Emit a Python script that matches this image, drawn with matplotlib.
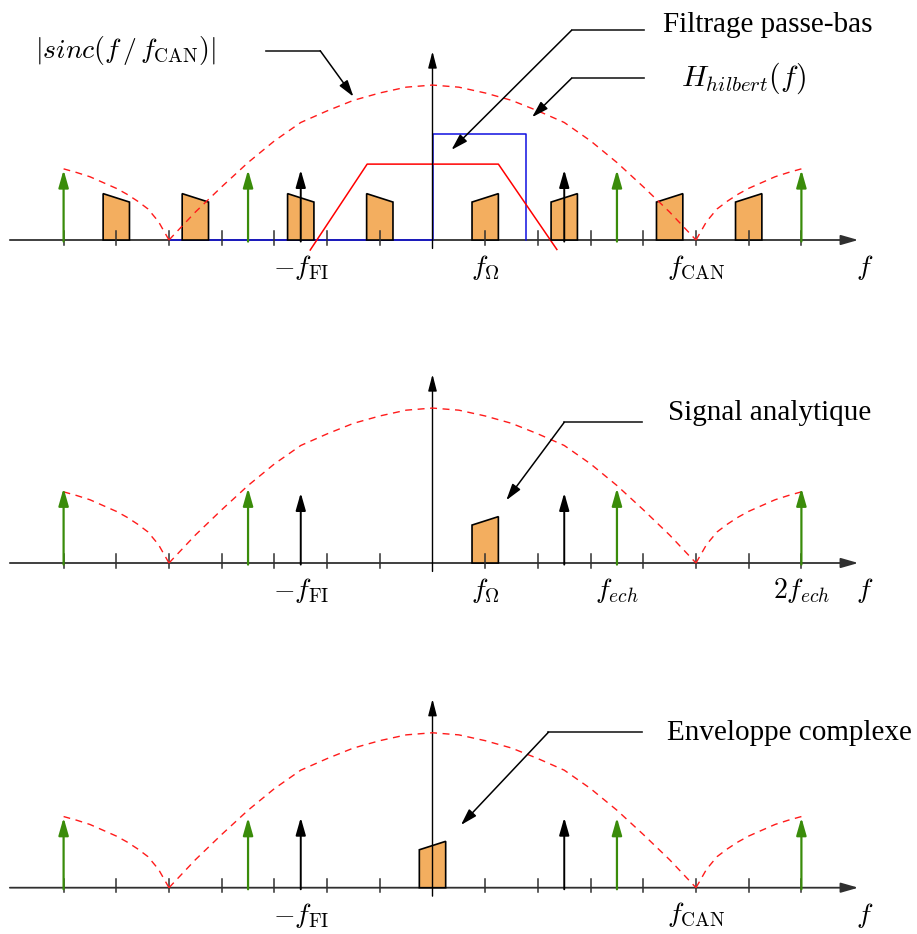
import matplotlib.pyplot as plt
import numpy as np

plt.rcParams['mathtext.fontset'] = 'cm'

# frequency axis in units where f_CAN = 5
f_fi = 2.5
f_omega = 1.0
f_can = 5.0
f_ech = 3.5

# |sinc| envelope (main lobe and side lobe, positive half)
lobe_x = [0, 0.5, 1.0, 1.5, 2.0, 2.5, 3.0, 3.5, 4.0, 4.5, 5.0]
lobe_y = [2.94, 2.90, 2.79, 2.65, 2.45, 2.23, 1.88, 1.47, 1.01, 0.53, 0.0]
side_x = [5.0, 5.2, 5.4, 5.6, 5.8, 6.0, 6.25, 6.5, 6.75, 7.0]
side_y = [0.0, 0.35, 0.59, 0.74, 0.87, 0.98, 1.09, 1.20, 1.28, 1.35]

# lines (Dirac) : green = multiples of f_ech, black = +/- f_FI
green_lines = [-2 * f_ech, -f_ech, f_ech, 2 * f_ech]
black_lines = [-f_fi, f_fi]
line_height = 1.33
green_height_p2 = 1.42

# band-pass spectrum replicas (centres), width and edge heights
p1_bands = [-6.0, -4.5, -2.5, -1.0, 1.0, 2.5, 4.5, 6.0]
p2_bands = [1.0]
p3_bands = [0.0]
band_width = 0.5
band_low = 0.72
band_high = 0.88

# filters of the first panel
hilbert_x = [-5.0, 0.0, 0.0, 1.77, 1.77]
hilbert_y = [0.0, 0.0, 2.01, 2.01, 0.0]
lowpass_x = [-2.32, -1.24, 1.25, 2.36]
lowpass_y = [-0.19, 1.44, 1.44, -0.18]

ticks = [k for k in range(-7, 8) if k != 0]

# ---- layout (pixels) ----
W, H = 917, 934
U = 52.7          # pixels per unit
X0 = 432.5        # pixel x of f = 0
RED = '#ff1a1a'
GREEN = '#3a8c0a'
ORANGE = '#f3ae5f'
AXC = '#303030'

fig = plt.figure(figsize=(W / 100, H / 100), dpi=100)


def make_panel(top_px, bottom_px, base_px):
    ax = fig.add_axes([0, 1 - bottom_px / H, 1, (bottom_px - top_px) / H])
    ax.set_xlim(-X0 / U, (W - X0) / U)
    ax.set_ylim(-(bottom_px - base_px) / U, (base_px - top_px) / U)
    ax.axis('off')
    return ax


def draw_axes(ax):
    ax.annotate('', xy=(8.08, 0), xytext=(-8.02, 0),
                arrowprops=dict(arrowstyle='-|>,head_length=1.05,head_width=0.3',
                                mutation_scale=10, color=AXC, lw=1.3,
                                shrinkA=0, shrinkB=0), zorder=2)
    ax.annotate('', xy=(0, 3.58), xytext=(0, -0.16),
                arrowprops=dict(arrowstyle='-|>,head_length=1.0,head_width=0.26',
                                mutation_scale=10, color='black', lw=1.0,
                                shrinkA=0, shrinkB=0), zorder=5.5)
    for t in ticks:
        ax.plot([t, t], [-0.09, 0.17], color=AXC, lw=1.1, zorder=5.5)


def draw_sinc(ax):
    lx = np.array(lobe_x)
    ly = np.array(lobe_y)
    sx = np.array(side_x)
    sy = np.array(side_y)
    kw = dict(color=RED, lw=1.0, ls=(0, (5, 4)), zorder=6)
    ax.plot(np.concatenate([-lx[::-1], lx[1:]]), np.concatenate([ly[::-1], ly[1:]]), **kw)
    ax.plot(sx, sy, **kw)
    ax.plot(-sx, sy, **kw)


def draw_bands(ax, centres):
    for c in centres:
        if c >= 0:
            hl, hr = band_low, band_high
        else:
            hl, hr = band_high, band_low
        ax.fill([c - band_width / 2, c - band_width / 2, c + band_width / 2, c + band_width / 2],
                [0, hl, hr, 0], facecolor=ORANGE, edgecolor='black', lw=1.2, zorder=5)


def draw_lines(ax, green_h):
    for x in green_lines:
        ax.annotate('', xy=(x, green_h), xytext=(x, -0.03),
                    arrowprops=dict(arrowstyle='-|>,head_length=1.05,head_width=0.3',
                                    mutation_scale=10, color=GREEN, lw=1.6,
                                    shrinkA=0, shrinkB=0), zorder=7)
    for x in black_lines:
        ax.annotate('', xy=(x, line_height), xytext=(x, -0.03),
                    arrowprops=dict(arrowstyle='-|>,head_length=1.05,head_width=0.3',
                                    mutation_scale=10, color='black', lw=1.4,
                                    shrinkA=0, shrinkB=0), zorder=7)


def leader(ax, start, elbow, tip):
    ax.plot([start[0], elbow[0]], [start[1], elbow[1]], color='#202020', lw=1.2,
            clip_on=False, zorder=8)
    ax.annotate('', xy=tip, xytext=elbow,
                arrowprops=dict(arrowstyle='-|>,head_length=1.0,head_width=0.3',
                                mutation_scale=10, color='black', lw=1.1,
                                shrinkA=0, shrinkB=0), zorder=8)


def flabel(ax, x, s, y=-0.52):
    ax.text(x, y, s, fontsize=20, ha='center', va='center', zorder=9)


txt = dict(family='Liberation Serif', fontsize=21, va='center', ha='left')

# ---- panel 1 ----
ax1 = make_panel(0, 286.6, 240)
draw_axes(ax1)
ax1.plot(hilbert_x, hilbert_y, color='#1010e0', lw=1.1, zorder=3)
ax1.plot(lowpass_x, lowpass_y, color='#ff0000', lw=1.1, zorder=3)
draw_bands(ax1, p1_bands)
draw_sinc(ax1)
draw_lines(ax1, line_height)
flabel(ax1, -f_fi, r'$-f_{\mathrm{FI}}$')
flabel(ax1, f_omega, r'$f_{\Omega}$')
flabel(ax1, f_can, r'$f_{\mathrm{CAN}}$')
flabel(ax1, 8.2, r'$f$')
ax1.text(-5.82, 3.6, r'$|sinc(f\,/\,f_{\mathrm{CAN}})|$', fontsize=20, ha='center', va='center')
leader(ax1, (-3.15, 3.59), (-2.13, 3.59), (-1.50, 2.72))
ax1.text(4.37, 4.08, 'Filtrage passe-bas', **txt)
leader(ax1, (4.02, 3.98), (2.64, 3.98), (0.36, 1.71))
ax1.text(5.89, 3.07, r'$H_{hilbert}(f)$', fontsize=21.5, ha='center', va='center')
leader(ax1, (4.02, 3.07), (2.64, 3.07), (1.89, 2.33))

# ---- panel 2 ----
ax2 = make_panel(286.6, 610.3, 563)
draw_axes(ax2)
draw_bands(ax2, p2_bands)
draw_sinc(ax2)
draw_lines(ax2, green_height_p2)
flabel(ax2, -f_fi, r'$-f_{\mathrm{FI}}$')
flabel(ax2, f_omega, r'$f_{\Omega}$')
flabel(ax2, f_ech, r'$f_{ech}$')
flabel(ax2, 2 * f_ech, r'$2f_{ech}$')
flabel(ax2, 8.2, r'$f$')
ax2.text(4.47, 2.85, 'Signal analytique', **txt)
leader(ax2, (3.98, 2.67), (2.5, 2.67), (1.40, 1.19))

# ---- panel 3 ----
ax3 = make_panel(610.3, 934, 887.7)
draw_axes(ax3)
draw_bands(ax3, p3_bands)
draw_sinc(ax3)
draw_lines(ax3, line_height)
flabel(ax3, -f_fi, r'$-f_{\mathrm{FI}}$')
flabel(ax3, f_can, r'$f_{\mathrm{CAN}}$')
flabel(ax3, 8.2, r'$f$')
ax3.text(4.45, 2.94, 'Enveloppe complexe', **txt)
leader(ax3, (3.98, 2.95), (2.2, 2.95), (0.54, 1.19))

plt.savefig('out.png', dpi=100)
